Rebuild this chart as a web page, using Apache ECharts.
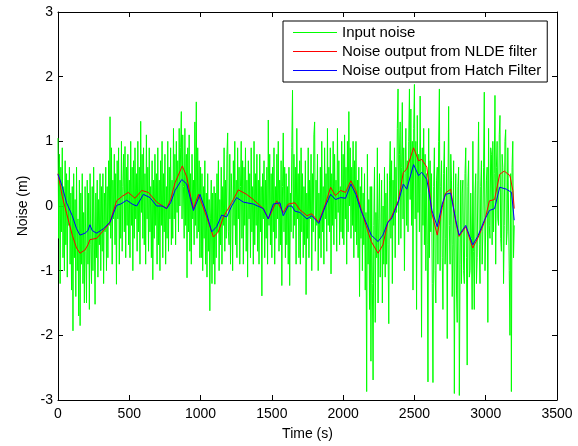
<!DOCTYPE html>
<html>
<head>
<meta charset="utf-8">
<script src="https://cdn.jsdelivr.net/npm/echarts@6/dist/echarts.min.js"></script>
<style>html,body{margin:0;padding:0;background:#fff}#c{width:578px;height:446px}</style>
</head>
<body>
<div id="c"></div>
<script>
// Input noise sampled every 5 s from 0 to 3200 s
const noiseStep = 5;
const inputNoise = [
 1.05,-0.5,0.8,-1.2,0.6,-0.4,0.9,-0.8,0.3,-1.0,0.7,-0.6,0.5,-1.1,0.4,-0.3,0.6,-0.9,0.2,-1.3,
 0.3,-1.93,0.5,-0.8,0.1,-1.4,0.6,-1.0,-0.2,-1.7,0.4,-1.85,0.2,-0.9,0.5,-1.2,-0.1,-1.5,0.3,-0.7,
 -1.5,0.4,-0.9,0.2,-1.6,0.5,-0.6,-1.2,0.3,-1.0,0.6,-0.5,-1.52,0.2,-0.8,0.4,-1.1,0.1,-0.6,0.5,
 -1.0,0.3,-0.7,0.5,-1.2,0.2,-0.4,0.6,-1.0,0.3,-0.8,0.7,-0.3,1.38,-0.5,0.9,-0.9,0.4,-0.2,0.8,
 -0.6,0.5,-1.21,0.7,-0.2,0.9,-0.9,0.4,-0.5,1.0,-0.7,0.3,0.8,-0.4,0.92,-0.8,0.6,-0.3,0.8,-0.6,
 0.4,-0.8,1.0,-0.3,0.6,-1.0,0.7,-0.5,0.9,-0.2,0.5,-0.7,1.0,-0.4,0.6,-0.9,1.31,-0.1,0.8,-0.5,
 0.9,-0.6,0.5,-0.9,1.1,-0.2,0.6,-0.7,0.9,-0.4,0.3,-0.8,0.7,-1.14,0.4,-0.5,0.8,-0.3,0.5,-0.9,
 0.9,-0.6,0.4,-1.0,0.7,-0.3,1.0,-0.8,0.5,-0.4,0.8,-0.9,0.3,-0.5,1.0,-0.7,0.6,-0.2,0.9,-0.6,
 0.4,-0.5,1.2,-0.2,0.8,-0.6,1.0,-0.1,0.7,-0.4,1.2,0.0,0.9,1.46,-0.2,1.1,0.3,-0.5,1.2,-0.3,
 0.8,-1.11,0.9,-0.4,1.1,-0.7,0.5,-0.9,0.8,-0.2,0.4,-0.6,1.3,-0.3,1.61,-0.5,0.9,-0.4,0.7,-0.8,
 0.6,-0.8,0.5,-1.0,0.3,-0.5,0.7,-0.9,0.2,-1.1,0.5,-0.7,0.1,-1.62,-0.2,0.4,-1.2,0.2,-0.9,0.3,
 -1.21,0.2,-0.8,0.5,-0.4,0.7,-1.0,0.1,-0.6,0.6,-0.9,0.3,-0.3,0.9,-0.7,0.4,-0.5,0.8,1.13,-0.4,
 -0.6,0.8,-0.9,0.5,0.1,-1.0,0.7,-0.3,1.0,-0.6,0.4,-0.8,0.9,-0.2,0.6,-0.9,0.3,1.0,-0.5,0.7,
 -0.9,0.6,-0.3,0.9,-0.7,0.4,-1.1,0.7,-0.2,0.5,-0.8,0.9,-0.4,0.3,-0.9,1.0,-0.6,0.5,-0.3,0.8,
 -0.7,0.4,-0.9,0.8,-0.4,0.3,-1.39,0.5,-0.2,0.7,-0.8,0.4,-0.5,0.6,-0.9,1.33,-0.3,0.8,-0.6,0.5,
 -0.8,0.6,-0.4,0.9,-0.9,0.3,-0.5,0.8,-0.2,1.0,-0.7,0.4,-0.6,0.7,-1.23,0.3,1.13,-0.4,0.6,-0.8,
 0.5,-0.6,0.3,-0.9,0.6,-1.23,0.2,-0.4,0.9,1.79,-0.5,0.8,-0.3,0.6,-0.9,1.2,-0.2,0.5,-0.8,0.7,
 -0.9,0.9,-0.4,0.5,-0.8,0.3,-0.6,0.7,-1.37,0.2,-0.5,0.9,-0.8,0.4,-0.2,0.8,-1.0,0.5,-0.4,1.1,
 1.3,-0.7,0.4,-0.3,0.8,-1.0,0.2,-0.5,0.6,-0.8,1.0,-0.4,0.3,-0.9,0.9,-0.2,0.5,-0.7,1.2,-0.3,
 0.6,-0.4,0.9,-1.05,0.5,-0.3,1.0,-0.6,0.8,-0.2,0.4,-0.7,1.2,-0.1,0.7,-0.6,0.3,-0.4,1.0,-0.5,
 0.8,-0.6,1.1,-0.2,0.6,-0.9,1.0,-0.4,1.46,0.0,0.9,-0.5,0.6,-0.3,1.0,-0.8,0.7,-0.4,1.0,-0.6,
 0.4,-0.8,0.6,-1.4,0.3,-0.5,0.6,-1.0,0.2,-0.6,0.5,-1.3,-0.1,-2.87,0.8,-0.9,0.1,-1.6,0.3,-2.4,
 0.3,-1.2,-2.69,-0.3,0.6,-1.8,-0.1,-0.8,0.9,-1.5,-0.2,0.5,-1.1,-0.4,0.4,-1.5,0.0,-0.9,0.6,-1.1,
 0.2,-0.9,0.5,-0.6,-1.82,0.4,1.0,-0.5,0.7,-1.2,0.4,-0.3,0.9,-0.8,0.6,-0.1,1.2,1.81,-0.6,0.8,
 1.3,-0.5,0.6,1.6,-0.2,0.9,-1.0,0.5,1.2,-0.3,0.7,-0.4,1.0,1.81,0.1,1.5,-0.3,1.0,-1.3,1.2,
 1.88,-0.2,1.0,-1.6,1.4,-0.1,0.8,-0.4,1.7,0.2,-2.03,0.9,-0.3,1.2,-0.6,0.8,-1.0,0.5,-0.6,-2.72,
 1.2,-0.8,0.7,-0.4,0.5,-1.2,-2.73,0.3,0.9,-1.0,-1.5,0.4,0.6,-0.9,1.0,1.81,-1.0,0.3,0.7,-0.8,
 -1.6,0.5,1.0,-0.9,-0.5,0.6,-2.05,0.2,1.54,-0.3,-0.9,0.8,0.4,-1.4,-0.6,0.7,-2.9,-0.2,0.5,-1.3,
 -1.8,0.3,0.6,-2.93,-0.9,0.4,-1.2,0.2,0.4,-1.0,-1.2,0.5,0.9,-0.8,-2.46,0.3,0.7,-1.1,-1.0,0.2,
 -0.5,-1.6,1.0,-0.7,-1.6,0.2,0.5,-1.2,-0.8,0.4,1.3,-0.6,-1.2,0.3,0.7,-0.9,-0.4,0.6,1.76,-1.0,
 -1.0,0.4,0.6,-1.8,1.2,-0.3,-0.5,0.9,0.8,-0.6,1.0,-0.4,0.5,1.71,-0.9,0.6,1.0,-0.2,-0.3,1.1,
 1.4,-0.5,-0.7,0.8,0.6,-1.2,-0.3,1.0,1.18,-0.6,-0.4,0.9,0.9,-1.0,-2.0,0.5,-2.87,0.6,1.0,-0.8,
 -0.3
];

// NLDE filter output
const nldeTime = [0,30,61,100,130,154,189,210,224,271,330,365,411,450,493,540,587,634,692,762,790,821,872,903,930,950,985,1043,1090,1125,1160,1218,1265,1323,1370,1440,1475,1534,1580,1615,1662,1697,1746,1780,1829,1876,1912,1946,1982,2017,2054,2089,2125,2160,2197,2245,2279,2314,2339,2387,2422,2446,2494,2529,2552,2587,2623,2660,2695,2718,2754,2790,2813,2860,2909,2944,2991,3026,3062,3098,3130,3170,3190,3200];
const nldeValues = [0.5,0.15,-0.12,-0.45,-0.65,-0.73,-0.68,-0.6,-0.52,-0.5,-0.35,-0.25,0.08,0.15,0.21,0.12,0.24,0.21,0.06,-0.04,0.1,0.36,0.62,0.45,0.15,-0.04,0.18,-0.17,-0.48,-0.4,-0.17,0.05,0.25,0.18,0.1,-0.04,-0.2,0.08,-0.1,0.03,0.05,-0.06,-0.15,-0.12,-0.25,0.03,0.29,0.16,0.24,0.21,0.39,0.24,-0.04,-0.3,-0.55,-0.73,-0.6,-0.25,-0.17,0.08,0.52,0.57,0.9,0.7,0.72,0.6,-0.12,-0.45,-0.02,0.2,0.26,-0.25,-0.47,-0.32,-0.65,-0.5,-0.25,0.08,0.1,0.49,0.54,0.47,0.24,-0.04];

// Hatch filter output
const hatchTime = [0,30,60,100,130,154,190,210,224,240,271,320,365,411,440,482,520,552,599,645,692,730,762,790,821,868,903,930,950,996,1043,1078,1113,1148,1183,1218,1253,1300,1370,1440,1475,1510,1557,1580,1615,1640,1662,1697,1746,1780,1829,1876,1912,1946,1982,2017,2054,2089,2125,2160,2197,2245,2279,2314,2339,2387,2422,2446,2494,2529,2552,2587,2623,2660,2695,2718,2754,2790,2813,2860,2909,2944,2991,3026,3062,3098,3145,3181,3200];
const hatchValues = [0.49,0.3,0.05,-0.15,-0.35,-0.45,-0.42,-0.38,-0.29,-0.38,-0.42,-0.35,-0.25,0.01,0.03,0.09,0.03,0,0.18,0.13,0,0,-0.04,0.05,0.24,0.41,0.34,0.1,-0.07,0.18,-0.12,-0.4,-0.32,-0.14,-0.17,0,0.13,0.06,0.03,-0.04,-0.2,0.03,0.05,-0.15,0,0,-0.08,-0.1,-0.2,-0.15,-0.27,0,0.18,0.1,0.13,0.12,0.34,0.18,-0.07,-0.25,-0.45,-0.55,-0.45,-0.25,-0.2,0.06,0.34,0.26,0.64,0.47,0.52,0.41,-0.07,-0.32,0.03,0.18,0.2,-0.22,-0.45,-0.3,-0.6,-0.47,-0.22,-0.07,-0.04,0.29,0.26,0.21,-0.22];

const seriesNames = ['Input noise','Noise output from NLDE filter','Noise output from Hatch Filter'];
const seriesColors = ['#00ff00','#ff0000','#0000ff'];

const FONT = '"Liberation Sans", Arial, sans-serif';
const pair = (ts, vs) => vs.map((v, i) => [ts[i], v]);
const noiseData = inputNoise.map((v, i) => [i * noiseStep, v]);

const chart = echarts.init(document.getElementById('c'), null, {renderer: 'canvas'});
const axisCommon = {
  axisLine: {show: true, onZero: false, lineStyle: {color: '#000', width: 1}},
  axisTick: {show: true, inside: true, length: 5, lineStyle: {color: '#000', width: 1}},
  splitLine: {show: false}
};
chart.setOption({
  animation: false,
  backgroundColor: '#fff',
  grid: {left: 58, top: 12, right: 21, bottom: 41, containLabel: false},
  xAxis: [
    Object.assign({type: 'value', min: 0, max: 3500, interval: 500, position: 'bottom',
      name: 'Time (s)', nameLocation: 'middle', nameGap: 27,
      nameTextStyle: {color: '#000', fontSize: 14, fontFamily: FONT},
      axisLabel: {color: '#000', fontSize: 14, fontFamily: FONT, margin: 7, formatter: v => String(v)}}, axisCommon),
    Object.assign({type: 'value', min: 0, max: 3500, interval: 500, position: 'top',
      axisLabel: {show: false}}, axisCommon)
  ],
  yAxis: [
    Object.assign({type: 'value', min: -3, max: 3, interval: 1, position: 'left',
      name: 'Noise (m)', nameLocation: 'middle', nameGap: 22, nameRotate: 90,
      nameTextStyle: {color: '#000', fontSize: 14, fontFamily: FONT},
      axisLabel: {color: '#000', fontSize: 14, fontFamily: FONT, margin: 5}}, axisCommon),
    Object.assign({type: 'value', min: -3, max: 3, interval: 1, position: 'right',
      axisLabel: {show: false}}, axisCommon)
  ],
  legend: {
    left: 283, top: 21, orient: 'vertical',
    backgroundColor: '#fff', borderColor: '#000', borderWidth: 1, borderRadius: 0,
    padding: [4, 6, 4, 10], itemGap: 4, itemWidth: 44, itemHeight: 1,
    textStyle: {color: '#000', fontSize: 15, fontFamily: FONT},
    data: seriesNames.map((n, i) => ({name: n, icon: 'rect', itemStyle: {color: seriesColors[i]}}))
  },
  series: [
    {name: seriesNames[0], type: 'line', data: noiseData, showSymbol: false, symbol: 'none',
      lineStyle: {color: seriesColors[0], width: 1}, itemStyle: {color: seriesColors[0]}, z: 1},
    {name: seriesNames[1], type: 'line', data: pair(nldeTime, nldeValues), showSymbol: false, symbol: 'none',
      lineStyle: {color: seriesColors[1], width: 1}, itemStyle: {color: seriesColors[1]}, z: 2},
    {name: seriesNames[2], type: 'line', data: pair(hatchTime, hatchValues), showSymbol: false, symbol: 'none',
      lineStyle: {color: seriesColors[2], width: 1}, itemStyle: {color: seriesColors[2]}, z: 3}
  ]
});
</script>
</body>
</html>
